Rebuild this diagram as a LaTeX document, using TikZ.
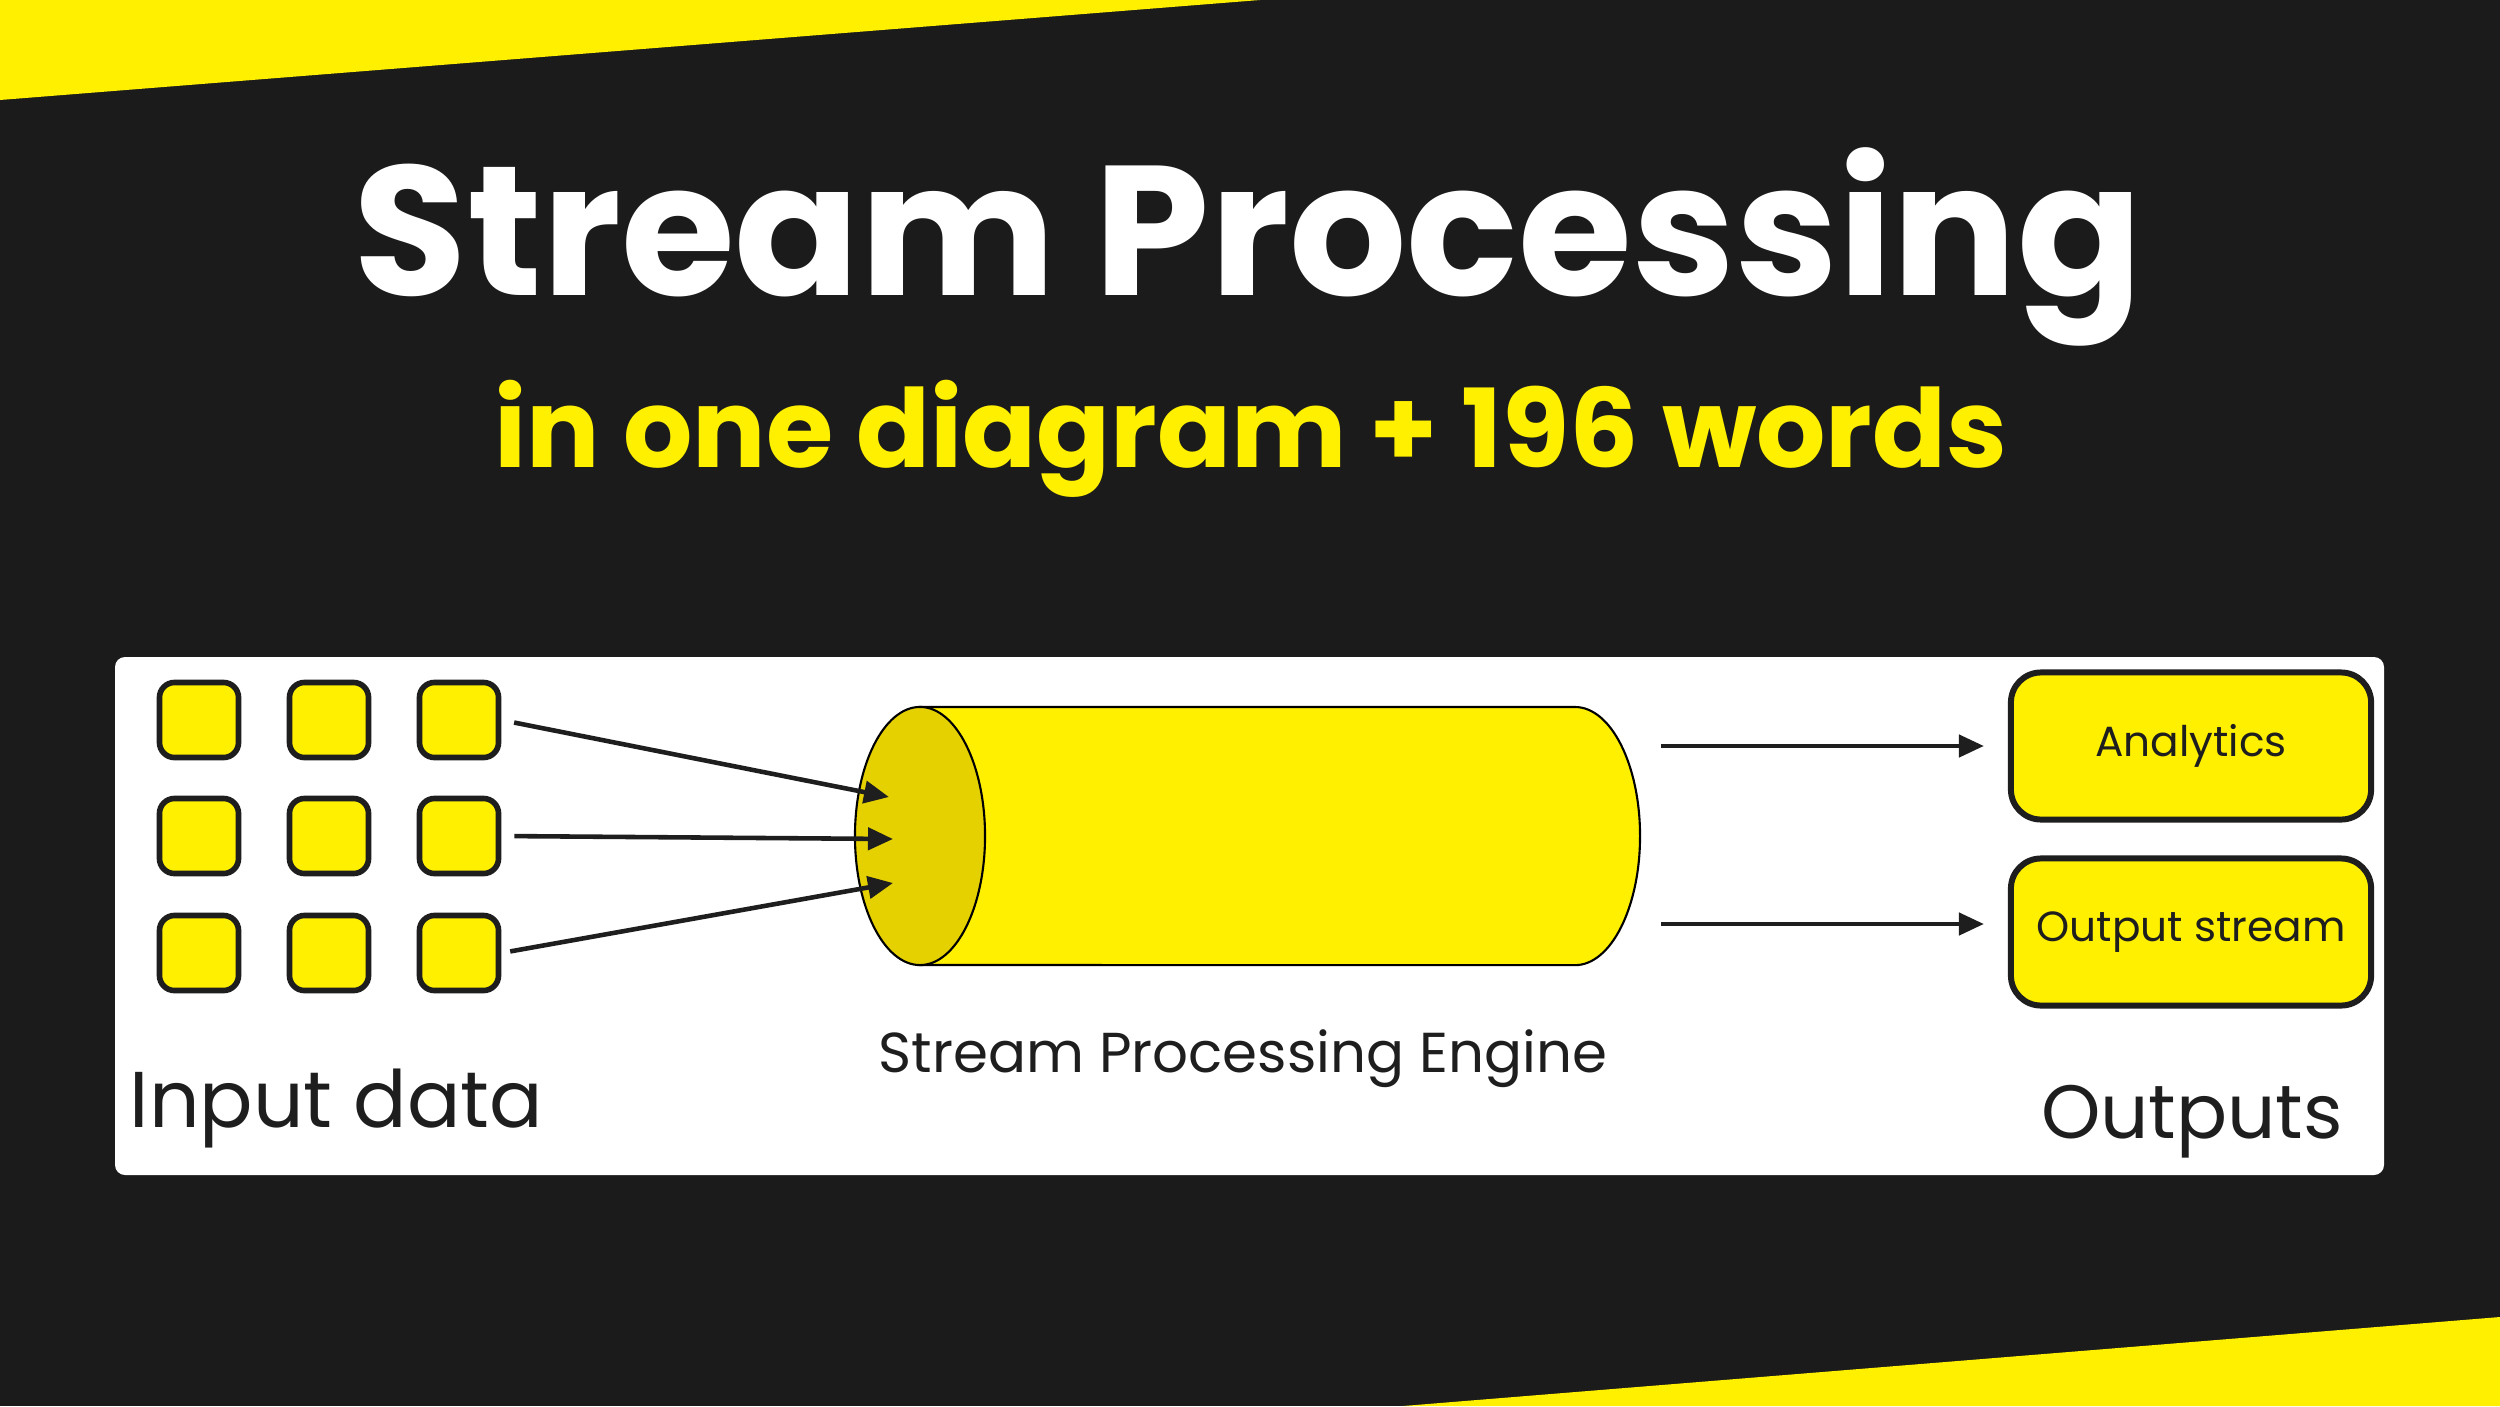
\documentclass[tikz,border=0pt]{standalone}
\usepackage{fontspec}
\setmainfont{Poppins}
\usetikzlibrary{shapes.geometric, arrows.meta, positioning}
\definecolor{darkbg}{HTML}{1B1B1B}
\definecolor{ylw}{HTML}{FFF000}
\definecolor{facey}{HTML}{E5D000}
\definecolor{ink}{HTML}{1E1E1E}

\begin{document}
\begin{tikzpicture}[x=0.01cm, y=-0.01cm]
			\tikzstyle{datanode}=[
			draw=ink,
			fill=ylw,
			line width=1.6pt,
			rounded corners=0.15cm,
			minimum width=0.79cm,
			minimum height=0.75cm,
			inner sep=0pt
			]
			\tikzstyle{outnode}=[
			draw=ink,
			fill=ylw,
			line width=1.7pt,
			rounded corners=0.3cm,
			minimum width=3.6cm,
			minimum height=1.47cm,
			font=\fontsize{12}{14}\selectfont,
			text=ink
			]
			\tikzstyle{flow}=[
			-{Triangle[length=0.25cm, width=0.22cm]},
			line width=1.3pt,
			draw=ink
			]
			\tikzstyle{caption}=[
			anchor=base,
			text=ink,
			inner sep=0pt
			]
			\useasboundingbox (0,0) rectangle (2500,1406);
			\fill[darkbg] (0,0) rectangle (2500,1406);
			\fill[ylw] (0,0) -- (1260,0) -- (0,100) -- cycle;
			\fill[ylw] (2500,1317) -- (2500,1406) -- (1403,1406) -- cycle;
			% title
			\node[anchor=base, text=white, font=\fontsize{52.5}{60}\selectfont\bfseries] (title) at (1248,295) {Stream Processing};
			\node[anchor=base, text=ylw, font=\fontsize{31}{36}\selectfont\bfseries] (subtitle) at (1251,467) {in one diagram + 196 words};
			% panel
			\fill[white, rounded corners=0.1cm] (115,657) rectangle (2384,1175);
			% input data
			\foreach \r/\y in {1/720, 2/836, 3/953}
				\foreach \c/\x in {1/199, 2/329, 3/459}
					\node[datanode] (d\r\c) at (\x,\y) {};
			% engine
			\draw[fill=ylw, line width=0.6pt] (920,707) -- (1575,707)
				arc[start angle=90, end angle=-90, x radius=0.65cm, y radius=1.29cm]
				-- (920,965) -- cycle;
			\node[ellipse, draw, fill=facey, line width=0.6pt, minimum width=1.3cm, minimum height=2.58cm, inner sep=0pt] (face) at (920,836) {};
			\coordinate (t1) at (889,797);
			\coordinate (t2) at (893,839);
			\coordinate (t3) at (893,883);
			\draw[flow, shorten <=0.13cm] (d13.east) -- (t1);
			\draw[flow, shorten <=0.13cm] (d23.east) -- (t2);
			\draw[flow, shorten <=0.09cm] (d33.east) -- (t3);
			% outputs
			\node[outnode] (an) at (2191,746) {Analytics};
			\node[outnode] (os) at (2191,932) {\raisebox{-0.5ex}{Output stream}};
			\coordinate (o1) at (1661,746);
			\coordinate (o2) at (1661,924);
			\draw[flow, shorten >=0.24cm] (o1) -- (o1 -| an.west);
			\draw[flow, shorten >=0.24cm] (o2) -- (o2 -| os.west);
			% labels
			\node[caption, anchor=base west, font=\fontsize{22.5}{26}\selectfont] (inlbl) at (129,1127) {Input data};
			\node[caption, font=\fontsize{16}{19}\selectfont] (englbl) at (1243,1072) {Stream Processing Engine};
			\node[caption, font=\fontsize{21.5}{25}\selectfont] (outlbl) at (2192,1138) {Outputs};
		\end{tikzpicture}
\end{document}
